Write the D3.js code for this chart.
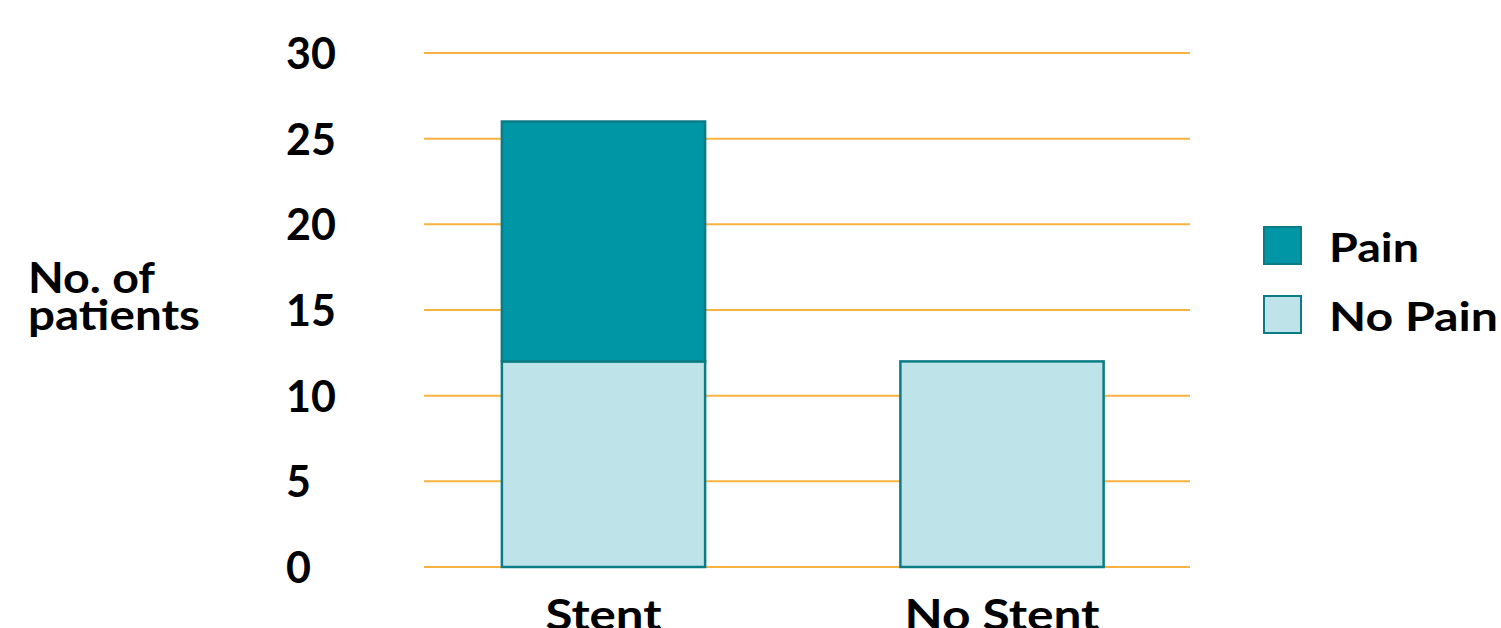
<!DOCTYPE html>
<html lang="en">
<head>
<meta charset="utf-8">
<title>Stent vs No Stent</title>
<script src="https://d3js.org/d3.v7.min.js"></script>
<style>
  body { margin: 0; background: #fff; }
  text { font-family: Lato, "Open Sans", sans-serif; font-weight: 700; fill: #000; }
</style>
</head>
<body>
<div id="chart"></div>
<script>
var categories = ["Stent", "No Stent"];
var noPain = [12, 12];
var pain = [14, 0];
var seriesNames = ["No Pain", "Pain"];
var yTicks = [0, 5, 10, 15, 20, 25, 30];

var width = 1501, height = 628;
var colors = { "Pain": "#0096a6", "No Pain": "#bee4ea" };
var edge = "#0b7c85";

var svg = d3.select("#chart").append("svg")
  .attr("width", width)
  .attr("height", height);

var y = d3.scaleLinear().domain([0, 30]).range([567, 53]);
var x = d3.scaleBand().domain(categories)
  .range([404.25, 1201.25])
  .paddingInner(0.49)
  .paddingOuter(0.245);

// gridlines
svg.append("g").selectAll("line")
  .data(yTicks)
  .enter().append("line")
  .attr("x1", 424).attr("x2", 1190)
  .attr("y1", function(d) { return y(d); })
  .attr("y2", function(d) { return y(d); })
  .attr("stroke", "#f9b240")
  .attr("stroke-width", 2);

// tick labels, left aligned like the original
svg.append("g").selectAll("text")
  .data(yTicks)
  .enter().append("text")
  .attr("x", 286)
  .attr("y", function(d) { return y(d) + 16; })
  .attr("font-size", 43)
  .text(function(d) { return d; });

var rows = categories.map(function(c, i) {
  return { cat: c, "No Pain": noPain[i], "Pain": pain[i] };
});
var stacked = d3.stack().keys(seriesNames)(rows);

svg.append("g").selectAll("g")
  .data(stacked)
  .enter().append("g")
  .attr("fill", function(s) { return colors[s.key]; })
  .selectAll("rect")
  .data(function(s) { return s.filter(function(d) { return d[1] > d[0]; }); })
  .enter().append("rect")
  .attr("x", function(d) { return x(d.data.cat); })
  .attr("y", function(d) { return y(d[1]); })
  .attr("width", x.bandwidth())
  .attr("height", function(d) { return y(d[0]) - y(d[1]); })
  .attr("stroke", edge)
  .attr("stroke-width", 2.5);

// category labels (cut off at the bottom, as in the original)
svg.append("g").selectAll("text")
  .data(categories)
  .enter().append("text")
  .attr("x", function(d) { return x(d) + x.bandwidth() / 2; })
  .attr("y", 630)
  .attr("text-anchor", "middle")
  .attr("font-size", 42)
  .attr("textLength", function(d) { return d === "Stent" ? 116 : 195; })
  .attr("lengthAdjust", "spacingAndGlyphs")
  .text(function(d) { return d; });

// y title
var title = svg.append("text").attr("font-size", 42);
title.append("tspan").attr("x", 28).attr("y", 293)
  .attr("textLength", 127).attr("lengthAdjust", "spacingAndGlyphs").text("No. of");
title.append("tspan").attr("x", 28).attr("y", 330)
  .attr("textLength", 172).attr("lengthAdjust", "spacingAndGlyphs").text("patients");

// legend
var legendItems = ["Pain", "No Pain"];
var lg = svg.append("g").selectAll("g")
  .data(legendItems)
  .enter().append("g")
  .attr("transform", function(d, i) { return "translate(1264," + (227 + i * 69) + ")"; });
lg.append("rect")
  .attr("width", 37).attr("height", 37)
  .attr("fill", function(d) { return colors[d]; })
  .attr("stroke", edge)
  .attr("stroke-width", 2);
lg.append("text")
  .attr("x", 65).attr("y", 35)
  .attr("font-size", 40)
  .attr("textLength", function(d) { return d === "Pain" ? 90 : 169; })
  .attr("lengthAdjust", "spacingAndGlyphs")
  .text(function(d) { return d; });
</script>
</body>
</html>
